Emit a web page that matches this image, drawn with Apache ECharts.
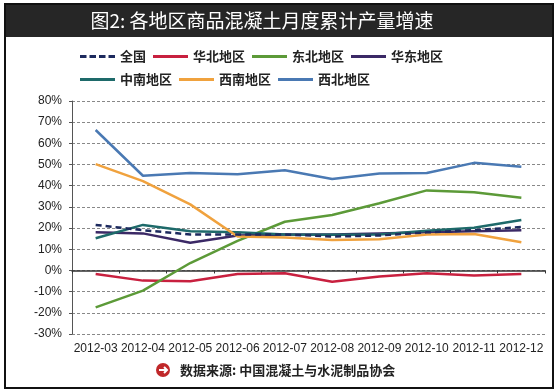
<!DOCTYPE html>
<html>
<head>
<meta charset="utf-8">
<script src="https://cdn.jsdelivr.net/npm/echarts@6/dist/echarts.min.js"></script>
<style>html,body{margin:0;padding:0;background:#fff;}#c{width:560px;height:392px;}</style>
</head>
<body>
<div id="c"></div>
<script>
var categories = ['2012-03','2012-04','2012-05','2012-06','2012-07','2012-08','2012-09','2012-10','2012-11','2012-12'];
var seriesNames = ['全国','华北地区','东北地区','华东地区','中南地区','西南地区','西北地区'];
var national  = [21.5, 19.0, 17.0, 17.0, 17.0, 16.0, 16.5, 18.0, 19.0, 20.5];
var north     = [-1.7, -4.8, -5.1, -1.7, -1.3, -5.3, -2.9, -1.3, -2.4, -1.7];
var northeast = [-17.4, -9.5, 3.5, 14.0, 23.0, 26.2, 31.7, 37.8, 36.9, 34.3];
var east      = [18.0, 17.5, 13.1, 16.5, 17.0, 17.0, 17.5, 18.0, 18.5, 19.0];
var central   = [15.2, 21.5, 18.5, 18.0, 17.0, 16.8, 17.0, 18.8, 20.2, 23.8];
var southwest = [50.2, 42.2, 31.2, 16.0, 15.5, 14.4, 14.7, 17.0, 17.2, 13.3];
var northwest = [66.3, 44.7, 46.0, 45.4, 47.3, 43.2, 45.8, 46.0, 50.8, 49.0];
var yTicks = {min: -30, max: 80, interval: 10};

var colors = ['#1d2a5e','#c8203f','#5c9a38','#3b2966','#1e6a6a','#f0a23e','#4a79b3'];
var dataList = [national, north, northeast, east, central, southwest, northwest];

var dashIcon = 'path://M0,0h6.5v3h-6.5z M9.5,0h6.5v3h-6.5z M19,0h6.5v3h-6.5z M28.5,0h6.5v3h-6.5z';
var solidIcon = 'path://M0,0h35v3h-35z';

var chart = echarts.init(document.getElementById('c'));
var series = dataList.map(function(d, i){
  return {
    name: seriesNames[i], type: 'line', data: d, symbol: 'none',
    z: i === 0 ? 5 : 2,
    lineStyle: {color: colors[i], width: 2.5, type: i === 0 ? [6,4] : 'solid'},
    itemStyle: {color: colors[i]}
  };
});
function legendData(names){
  return names.map(function(n){ return {name: n, icon: n === '全国' ? dashIcon : solidIcon}; });
}
var legendText = {fontFamily: 'Noto Sans CJK SC', fontSize: 13, fontWeight: 'bold', color: '#222', width: 56};
chart.setOption({
  backgroundColor: '#fff',
  animation: false,
  legend: [
    {data: legendData(seriesNames.slice(0,4)), left: 75, top: 45, itemWidth: 35, itemHeight: 3, itemGap: 7, textStyle: legendText},
    {data: legendData(seriesNames.slice(4)), left: 75, top: 68, itemWidth: 35, itemHeight: 3, itemGap: 7, textStyle: legendText}
  ],
  grid: {left: 72, right: 15, top: 101, bottom: 58},
  xAxis: {
    type: 'category', data: categories, boundaryGap: true,
    axisLine: {lineStyle: {color: '#333', width: 1.5}},
    axisTick: {show: true, length: 3, lineStyle: {color: '#333'}},
    axisLabel: {color: '#222', fontSize: 12, fontFamily: 'Liberation Sans', margin: 9, interval: 0}
  },
  yAxis: {
    type: 'value', min: yTicks.min, max: yTicks.max, interval: yTicks.interval,
    axisLine: {show: true, lineStyle: {color: '#555'}},
    axisTick: {show: true, length: 3, lineStyle: {color: '#555'}},
    axisLabel: {formatter: '{value}%', color: '#222', fontSize: 12, fontFamily: 'Liberation Sans', margin: 10},
    splitLine: {show: true, lineStyle: {color: '#888', type: [3,2], width: 1}}
  },
  graphic: [
    {type: 'rect', shape: {x: 5, y: 4, width: 548, height: 384}, style: {fill: 'none', stroke: '#111', lineWidth: 2}, z: 10},
    {type: 'rect', shape: {x: 5, y: 4, width: 548, height: 33}, style: {fill: '#262626'}, z: 9},
    {type: 'text', x: 262, y: 21, style: {text: '图2: 各地区商品混凝土月度累计产量增速', fill: '#fff', font: '19px "Noto Sans CJK SC"', textAlign: 'center', textVerticalAlign: 'middle'}, z: 11},
    {type: 'circle', shape: {cx: 163, cy: 370, r: 7}, style: {fill: '#c0282a'}, z: 10},
    {type: 'polyline', shape: {points: [[159,370],[167,370]]}, style: {stroke: '#fff', lineWidth: 2}, z: 11},
    {type: 'polyline', shape: {points: [[164,367],[167,370],[164,373]]}, style: {stroke: '#fff', lineWidth: 2, fill: 'none'}, z: 11},
    {type: 'text', x: 180, y: 370, style: {text: '数据来源: 中国混凝土与水泥制品协会', fill: '#222', font: 'bold 13px "Noto Sans CJK SC"', textVerticalAlign: 'middle'}, z: 10}
  ],
  series: series
});
</script>
</body>
</html>
